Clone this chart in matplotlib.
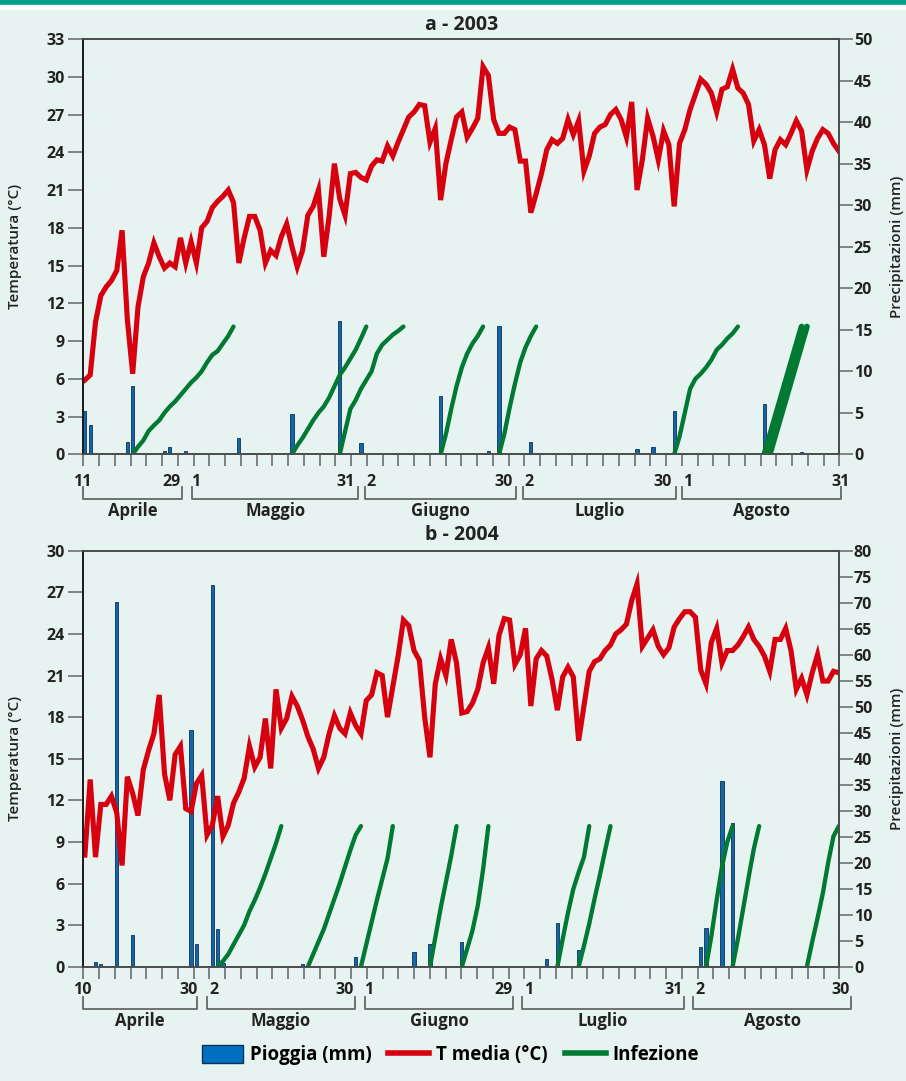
import matplotlib
matplotlib.use("Agg")
import matplotlib.pyplot as plt
from matplotlib.lines import Line2D
from matplotlib.patches import Patch, Rectangle
import numpy as np

plt.rcParams["font.family"] = ["Open Sans", "DejaVu Sans"]
plt.rcParams["font.weight"] = "bold"

W, H = 906, 1081

# mean daily temperature (degC), one value per day of the season
TEMP_2003 = [
    5.9, 6.3, 10.5, 12.6, 13.3, 13.8, 14.6, 17.8, 10.7, 6.4,
    11.7, 14.1, 15.2, 16.8, 15.7, 14.8, 15.2, 14.9, 17.2, 15.2,
    16.9, 15.2, 18.0, 18.5, 19.6, 20.1, 20.5, 21.0, 20.0, 15.2,
    17.2, 18.9, 18.9, 17.8, 15.2, 16.2, 15.8, 17.3, 18.3, 16.5,
    14.9, 16.2, 19.0, 19.7, 21.0, 15.7, 18.9, 23.1, 20.3, 19.0,
    22.3, 22.4, 22.0, 21.8, 22.9, 23.4, 23.3, 24.5, 23.7, 24.8,
    25.8, 26.8, 27.2, 27.8, 27.7, 24.8, 25.9, 20.2, 23.1, 25.0,
    26.8, 27.2, 25.2, 25.9, 26.7, 30.8, 30.1, 26.6, 25.5, 25.5,
    26.0, 25.8, 23.3, 23.3, 19.2, 20.7, 22.3, 24.2, 25.0, 24.7,
    25.1, 26.6, 25.4, 26.5, 22.5, 23.7, 25.5, 26.0, 26.2, 27.0,
    27.4, 26.6, 25.2, 28.0, 21.0, 23.4, 26.7, 25.3, 23.4, 25.7,
    24.6, 19.7, 24.7, 25.8, 27.4, 28.6, 29.8, 29.4, 28.7, 27.2,
    29.0, 29.2, 30.6, 29.1, 28.7, 27.8, 24.9, 25.8, 24.6, 21.9,
    24.2, 25.0, 24.6, 25.5, 26.5, 25.7, 22.6, 24.1, 25.1, 25.8,
    25.5, 24.7, 24.1,
]
TEMP_2004 = [
    8.05, 13.5, 7.9, 11.7, 11.7, 12.3, 11.1, 7.3, 13.7, 12.5,
    10.9, 14.2, 15.6, 16.8, 19.6, 13.9, 12.0, 15.3, 15.9, 11.4,
    11.2, 13.2, 13.8, 9.5, 10.2, 12.3, 9.4, 10.2, 11.8, 12.6,
    13.6, 15.9, 14.4, 15.1, 17.9, 14.3, 20.0, 17.2, 17.9, 19.5,
    18.8, 17.8, 16.6, 15.7, 14.3, 15.1, 16.8, 18.1, 17.2, 16.8,
    18.3, 17.4, 16.8, 19.2, 19.6, 21.2, 21.0, 18.0, 20.2, 22.4,
    25.0, 24.6, 22.8, 22.1, 18.0, 15.1, 20.4, 22.2, 21.0, 23.6,
    21.9, 18.3, 18.4, 19.0, 20.0, 21.9, 23.0, 20.4, 23.9, 25.1,
    25.0, 21.8, 22.5, 24.4, 18.8, 22.2, 22.8, 22.4, 20.7, 18.5,
    20.9, 21.6, 20.9, 16.3, 18.8, 21.3, 22.0, 22.2, 22.8, 23.2,
    24.0, 24.3, 24.7, 26.4, 27.6, 23.1, 23.7, 24.3, 23.1, 22.5,
    23.0, 24.5, 25.1, 25.6, 25.6, 25.2, 21.4, 20.4, 23.4, 24.4,
    21.9, 22.8, 22.8, 23.2, 23.8, 24.5, 23.6, 23.1, 22.4, 21.3,
    23.6, 23.6, 24.4, 22.8, 20.0, 20.8, 19.6, 21.2, 22.5, 20.6,
    20.6, 21.3, 21.2,
]

# rain (mm): day index and amount
RAIN_2003_DAY = [0, 1, 2, 6, 8, 9, 15, 16, 19, 21, 29, 31, 39, 48, 52, 67, 68,
                 76, 78, 84, 85, 95, 104, 107, 111, 128, 130, 135]
RAIN_2003_MM = [5.2, 3.5, 0.2, 0.2, 1.5, 8.2, 0.4, 0.9, 0.4, 0.2, 2.0, 0.2, 4.9,
                16.0, 1.4, 7.0, 0.1, 0.4, 15.5, 1.5, 0.2, 0.2, 0.6, 0.9, 5.2,
                6.0, 0.1, 0.3]
RAIN_2004_DAY = [2, 3, 6, 9, 20, 21, 24, 25, 26, 41, 51, 62, 65, 71, 87, 89, 93,
                 116, 117, 120, 122]
RAIN_2004_MM = [1.0, 0.5, 70.2, 6.1, 45.6, 4.3, 73.4, 7.2, 0.8, 0.5, 1.9, 2.8,
                4.3, 4.7, 1.4, 8.5, 3.2, 3.7, 7.5, 35.8, 27.6]

# infection progress curves: (first day, daily values on the temperature scale, width)
INF_2003 = [
    (9, [0, 0.6, 1.1, 1.85, 2.3, 2.7, 3.3, 3.8, 4.2, 4.7, 5.2, 5.7, 6.1, 6.6,
         7.3, 7.9, 8.2, 8.8, 9.4, 10.15], 3.1),
    (39, [0, 0.7, 1.3, 2.0, 2.7, 3.3, 3.8, 4.5, 5.4, 6.3, 6.9, 7.6, 8.3, 9.2, 10.15], 3.1),
    (48, [0, 1.8, 3.6, 4.3, 5.2, 5.9, 6.6, 8.0, 8.7, 9.1, 9.5, 9.8, 10.15], 3.1),
    (67, [0, 1.6, 3.6, 5.4, 6.9, 8.0, 8.8, 9.4, 10.15], 3.1),
    (78, [0, 1.6, 3.7, 5.6, 7.3, 8.5, 9.4, 10.15], 3.1),
    (111, [0, 1.4, 3.3, 5.2, 6.0, 6.4, 6.9, 7.5, 8.3, 8.7, 9.2, 9.6, 10.15], 3.1),
    (128, [0, 1.45, 2.9, 4.35, 5.8, 7.25, 8.7, 10.15], 4.2),
    (129, [0, 1.45, 2.9, 4.35, 5.8, 7.25, 8.7, 10.15], 4.2),
]
INF_2004 = [
    (25, [0, 0.4, 0.9, 1.6, 2.3, 3.0, 4.0, 4.8, 5.7, 6.7, 7.8, 8.9, 10.14], 3.1),
    (42, [0, 0.9, 1.8, 2.7, 3.8, 4.9, 6.0, 7.2, 8.4, 9.5, 10.14], 3.1),
    (52, [0, 1.6, 3.2, 4.8, 6.3, 7.8, 10.14], 3.1),
    (65, [0, 2.1, 4.2, 6.1, 8.0, 10.14], 3.1),
    (71, [0, 1.3, 2.6, 4.4, 7.0, 10.14], 3.1),
    (89, [0, 2.0, 3.9, 5.6, 6.8, 7.9, 10.14], 3.1),
    (93, [0, 1.5, 3.1, 4.9, 6.6, 8.4, 10.14], 3.1),
    (117, [0, 2.2, 4.8, 7.2, 9.0, 10.14], 3.1),
    (122, [0, 2.0, 4.2, 6.4, 8.5, 10.14], 3.1),
    (136, [0, 1.8, 3.5, 5.3, 7.5, 9.4, 10.14], 3.1),
]

MONTHS = ["Aprile", "Maggio", "Giugno", "Luglio", "Agosto"]
DAY_LBL_2003 = ["11", "29", "1", "31", "2", "30", "2", "30", "1", "31"]
DAY_LBL_2004 = ["10", "30", "2", "30", "1", "29", "1", "31", "2", "30"]

# layout (axes fractions) for the day labels and month brackets
DAY_POS_2003 = [-0.002, 0.116, 0.149, 0.347, 0.380, 0.556, 0.589, 0.766, 0.799, 1.002]
DAY_POS_2004 = [-0.001, 0.139, 0.173, 0.346, 0.378, 0.556, 0.589, 0.781, 0.816, 1.002]
SPANS_2003 = [(0.0, 0.130), (0.144, 0.364), (0.372, 0.573), (0.582, 0.784), (0.792, 1.002)]
SPANS_2004 = [(0.0, 0.150), (0.163, 0.360), (0.373, 0.569), (0.580, 0.794), (0.806, 1.016)]

BG = "#E6F3F0"
RED = "#D7000F"
GREEN = "#007A33"
BAR = "#1466A8"
BAR_EDGE = "#0A3357"
AX_COL = "#4a4a4a"
XMIN, XMAX = -0.3, 142.1

fig = plt.figure(figsize=(W / 100, H / 100), dpi=100, facecolor=BG)
fig.patches.append(Rectangle((0, 1 - 5 / H), 1, 5 / H, transform=fig.transFigure,
                             color="#00A08A", zorder=0))
fig.patches.append(Rectangle((0, 1 - 9 / H), 1, 4 / H, transform=fig.transFigure,
                             color="white", zorder=0))


def fy(py):
    return 1 - py / H


def panel(box, temp, rday, rmm, inf, tmax, pmax, title, title_py,
          day_lbl, day_pos, spans, lbl_py):
    ax = fig.add_axes(box)
    ax2 = ax.twinx()
    ax.set_zorder(ax2.get_zorder() + 1)
    ax.patch.set_visible(False)

    ax2.bar(rday, rmm, width=0.6, color=BAR, edgecolor=BAR_EDGE, linewidth=0.6)
    ax.plot(np.arange(len(temp)), temp, color=RED, lw=3.7, solid_joinstyle="miter")
    for start, vals, lw in inf:
        ax.plot(np.arange(start, start + len(vals)), vals, color=GREEN, lw=lw,
                solid_capstyle="round")

    ax.set_xlim(XMIN, XMAX)
    ax.set_ylim(0, tmax)
    ax.set_yticks(range(0, tmax + 1, 3))
    ax2.set_ylim(0, pmax)
    ax2.set_yticks(range(0, pmax + 1, 5))
    ax.set_xticks(np.linspace(XMIN, XMAX, 49))
    ax.set_xticklabels([])
    ax.tick_params(axis="x", length=8.9, width=1.3, color="#777777")
    ax.tick_params(axis="y", length=10.5, width=1.1, color="#666666", labelsize=11.5,
                   pad=3, labelcolor="#222222")
    ax2.tick_params(axis="y", length=10.0, width=1.1, color="#666666", labelsize=11.5,
                    pad=0.5, labelcolor="#222222")
    for a in (ax, ax2):
        for s in a.spines.values():
            s.set_color(AX_COL)
            s.set_linewidth(1.2)
    ax.spines["left"].set_color("#111111")

    ax.set_ylabel("Temperatura (°C)", fontsize=11, fontweight="semibold",
                  color="#222222")
    ax.yaxis.set_label_coords(-0.081, 0.5)
    ax2.set_ylabel("Precipitazioni (mm)", fontsize=11, fontweight="semibold",
                   color="#222222")
    ax2.yaxis.set_label_coords(1.067, 0.5)

    fig.text(462 / W, fy(title_py), title, ha="center", va="center",
             fontsize=14, color="#222222")

    x0, w = box[0], box[2]
    num_py, top_py, bot_py, name_py = lbl_py
    for lbl, p in zip(day_lbl, day_pos):
        fig.text(x0 + p * w, fy(num_py), lbl, ha="center", va="center",
                 fontsize=11.5, color="#222222")
    for name, (a0, a1) in zip(MONTHS, spans):
        xa, xb = x0 + a0 * w, x0 + a1 * w
        fig.add_artist(Line2D([xa, xa, xb, xb], [fy(top_py), fy(bot_py), fy(bot_py), fy(top_py)],
                              transform=fig.transFigure, color="#666666", lw=1.3))
        fig.text((xa + xb) / 2, fy(name_py), name, ha="center", va="center",
                 fontsize=12, color="#222222")
    return ax


panel([83.3 / W, fy(454.3), 756 / W, 415.3 / H], TEMP_2003, RAIN_2003_DAY, RAIN_2003_MM,
      INF_2003, 33, 50, "a - 2003", 25, DAY_LBL_2003, DAY_POS_2003, SPANS_2003,
      (481.7, 487, 499, 511))
panel([83.3 / W, fy(966.7), 756 / W, 416 / H], TEMP_2004, RAIN_2004_DAY, RAIN_2004_MM,
      INF_2004, 30, 80, "b - 2004", 535, DAY_LBL_2004, DAY_POS_2004, SPANS_2004,
      (990, 996.7, 1009, 1021))

handles = [
    Patch(facecolor="#0070C0", edgecolor="#0A3357", linewidth=1.0),
    Line2D([], [], color=RED, lw=4),
    Line2D([], [], color=GREEN, lw=4),
]
fig.legend(handles, ["Pioggia (mm)", "T media (°C)", "Infezione"], loc="center",
           bbox_to_anchor=(0.497, fy(1055)), ncol=3, frameon=False, fontsize=13.5,
           handlelength=2.2, handleheight=1.1, handletextpad=0.35, columnspacing=0.9)

fig.savefig("out.png", dpi=100, facecolor=BG)
